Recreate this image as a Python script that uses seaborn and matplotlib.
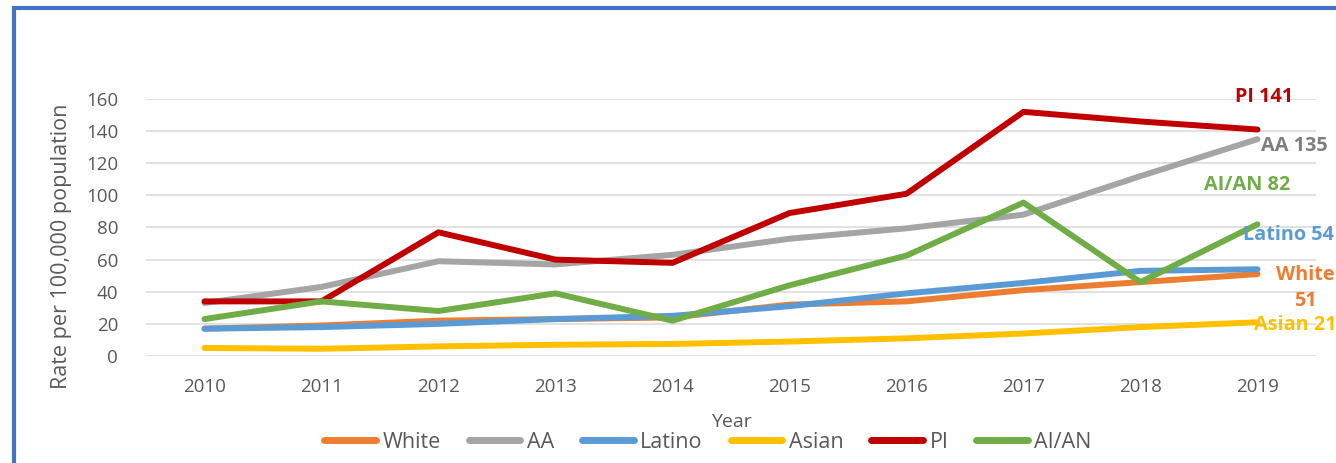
import matplotlib
matplotlib.use("Agg")
import matplotlib.pyplot as plt
import seaborn as sns
import pandas as pd
from matplotlib.patches import Rectangle
from matplotlib.lines import Line2D

years = [2010, 2011, 2012, 2013, 2014, 2015, 2016, 2017, 2018, 2019]
white = [17, 19, 22, 23, 24, 32, 34, 41, 46, 51]
aa = [33, 43, 59, 57, 63, 73, 79.5, 88, 112, 135]
latino = [17, 18, 20, 23, 25, 31, 39, 45.5, 53, 54]
asian = [5, 4.5, 6, 7, 7.5, 9, 11, 14, 18, 21]
pi = [34, 34, 77, 60, 58, 89, 101, 152, 146, 141]
aian = [23, 34, 28, 39, 22, 44, 62.5, 95.5, 46, 82]

groups = ["White", "AA", "Latino", "Asian", "PI", "AI/AN"]
series = [white, aa, latino, asian, pi, aian]
colors = ["#ED7D31", "#A5A5A5", "#5B9BD5", "#FFC000", "#C00000", "#70AD47"]
label_colors = ["#ED7D31", "#7F7F7F", "#5B9BD5", "#FFC000", "#C00000", "#70AD47"]
end_labels = ["White\n51", "AA 135", "Latino 54", "Asian 21", "PI 141", "AI/AN 82"]

rows = []
for g, vals in zip(groups, series):
    for y, v in zip(years, vals):
        rows.append({"Year": y, "Rate": v, "Group": g})
df = pd.DataFrame(rows)

sns.set_theme(style="white")
plt.rcParams["font.family"] = ["Open Sans", "DejaVu Sans"]

W, H = 1336, 463
fig = plt.figure(figsize=(W / 100, H / 100), dpi=100)
ax = fig.add_axes([146 / W, (H - 356) / H, 1170 / W, 257 / H])

sns.lineplot(data=df, x="Year", y="Rate", hue="Group", hue_order=groups,
             palette=dict(zip(groups, colors)), linewidth=4.3, ax=ax,
             legend=False, solid_capstyle="round", solid_joinstyle="round")

ax.set_xlim(2009.5, 2019.5)
ax.set_ylim(0, 160)
ax.set_yticks(range(0, 161, 20))
ax.set_xticks(years)
ax.yaxis.grid(True, color="#D9D9D9", linewidth=1.1)
ax.set_axisbelow(True)
for s in ax.spines.values():
    s.set_visible(False)
tick_fs = 13.5
big_fs = 15.5
ax.tick_params(axis="both", length=0, labelsize=tick_fs, labelcolor="#595959")
ax.tick_params(axis="y", pad=20)
ax.tick_params(axis="x", pad=16)
ax.set_xlabel("Year", fontsize=tick_fs + 0.5, color="#595959", labelpad=12)
ax.set_ylabel("Rate per 100,000 population", fontsize=big_fs, color="#595959")
ax.yaxis.set_label_coords((72 - 146) / 1170, (356 - 246) / 257)

# end-of-line labels, positioned relative to the 2019 data points (pixel offsets)
offsets = {"White": (48, -14), "AA": (4, -7), "Latino": (31, 34),
           "Asian": (38, -3), "PI": (7, 33), "AI/AN": (-10, 39)}
has = {"White": "center", "AA": "left", "Latino": "center",
       "Asian": "center", "PI": "center", "AI/AN": "center"}
for g, vals, lab, c in zip(groups, series, end_labels, label_colors):
    ax.annotate(lab, xy=(years[-1], vals[-1]), xytext=offsets[g],
                textcoords="offset pixels", ha=has[g], va="center",
                fontsize=14.3, fontweight="bold", color=c,
                linespacing=1.45, annotation_clip=False)

# legend
handles = [Line2D([0], [0], color=c, linewidth=5, solid_capstyle="round") for c in colors]
fig.legend(handles, groups, loc="center", bbox_to_anchor=(708 / W, (H - 442) / H),
           ncol=6, frameon=False, fontsize=big_fs, handlelength=2.4,
           handletextpad=0.3, columnspacing=1.3, labelcolor="#595959",
           borderaxespad=0)

# outer blue border (extends past right and bottom edges)
fig.patches.append(Rectangle((14 / W, -0.1), 1.2, (H - 8) / H + 0.1,
                             transform=fig.transFigure, fill=False,
                             edgecolor="#4472C4", linewidth=3, zorder=0))

fig.savefig("out.png", dpi=100)
